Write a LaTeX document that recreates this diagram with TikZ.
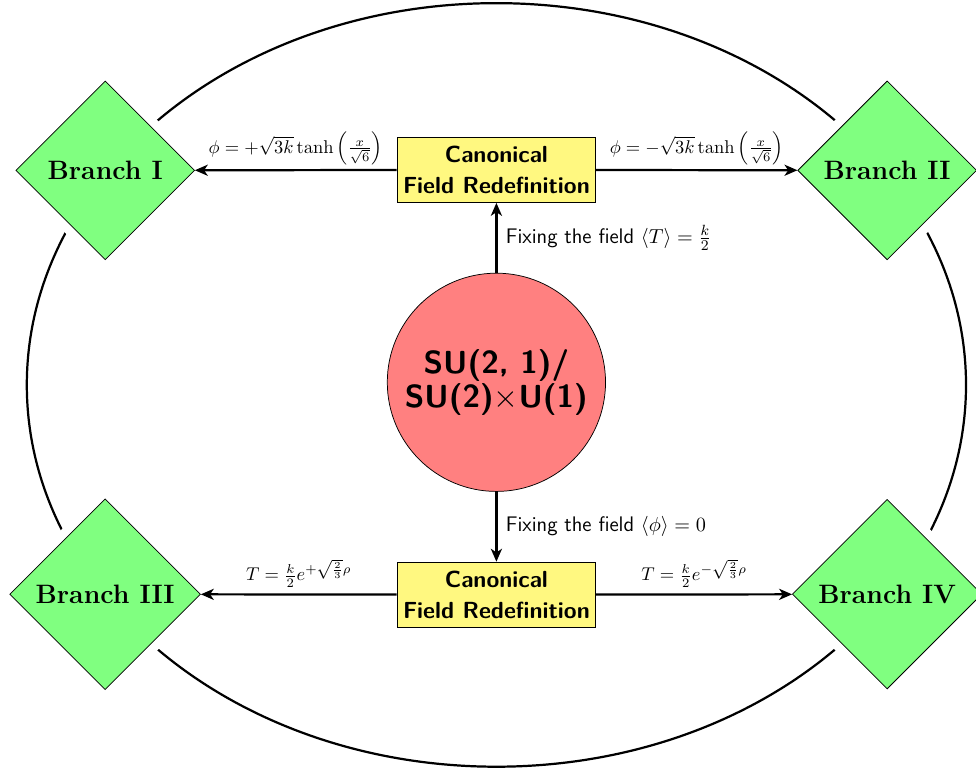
\documentclass[tikz,border=0pt]{standalone}
\usepackage{amsmath}
\usepackage{amssymb}
\usepackage{tikz}
\usetikzlibrary{arrows,arrows.meta,shapes,positioning}
\tikzstyle{link}=[
	-{Stealth[length=7pt,width=6pt,inset=2pt]},
	line width=1.2pt,
	draw=black
]
\tikzstyle{branch}=[
	diamond,
	aspect=1,
	draw=black,
	fill=green!50,
	inner sep=4.5pt,
	minimum size=3.4cm,
	font=\Large\bfseries,
	preaction={draw=white, line width=10pt}
]
\tikzstyle{canon}=[
	rectangle,
	draw=black,
	fill=yellow!50,
	minimum width=3.78cm,
	minimum height=1.24cm,
	inner sep=2pt,
	align=center,
	font=\sffamily\bfseries\fontsize{12.6}{17}\selectfont
]
\tikzstyle{coset}=[
	circle,
	draw=black,
	fill=red!50,
	minimum size=4.15cm,
	align=center,
	font=\LARGE\sffamily\bfseries
]
\tikzstyle{fixing}=[
	right,
	inner sep=4.5pt,
	font=\sffamily\fontsize{11.4}{14}\selectfont
]

\begin{document}
\begin{tikzpicture}[node distance=1.33cm]
\useasboundingbox (-9.44,-7.46) rectangle (9.12,7.27);
\node[coset] (su) at (0,0) {SU(2, 1)/\\[-3.6pt]SU(2)$\times$U(1)};
\node[canon, above=of su] (c1) {Canonical\\Field Redefinition};
\node[canon, below=of su] (c2) {Canonical\\Field Redefinition};

\draw[line width=1.2pt] ([yshift=-0.05cm]su.center) ellipse [x radius=8.93cm, y radius=7.26cm];

\node[branch] (b1) at (-7.44,4.03) {Branch I};
\node[branch] (b2) at (7.43,4.03) {Branch II};
\node[branch] (b3) at (-7.44,-4.03) {Branch III};
\node[branch] (b4) at (7.43,-4.03) {Branch IV};

\draw[link] (su) to node[fixing] {Fixing the field $\langle T\rangle = \frac{k}{2}$} (c1);
\draw[link] (su) to node[fixing] {Fixing the field $\langle\phi\rangle = 0$} (c2);

\draw[link] (c1) to node[above, inner sep=2pt] {$\phi = +\sqrt{3k}\tanh\left(\frac{x}{\sqrt{6}}\right)$} (b1);
\draw[link] (c1) to node[above, inner sep=2pt] {$\phi = -\sqrt{3k}\tanh\left(\frac{x}{\sqrt{6}}\right)$} (b2);
\draw[link] (c2) to node[above] {$T = \frac{k}{2}e^{+\sqrt{\frac{2}{3}}\rho}$} (b3);
\draw[link] (c2) to node[above] {$T = \frac{k}{2}e^{-\sqrt{\frac{2}{3}}\rho}$} (b4);
\end{tikzpicture}
\end{document}
